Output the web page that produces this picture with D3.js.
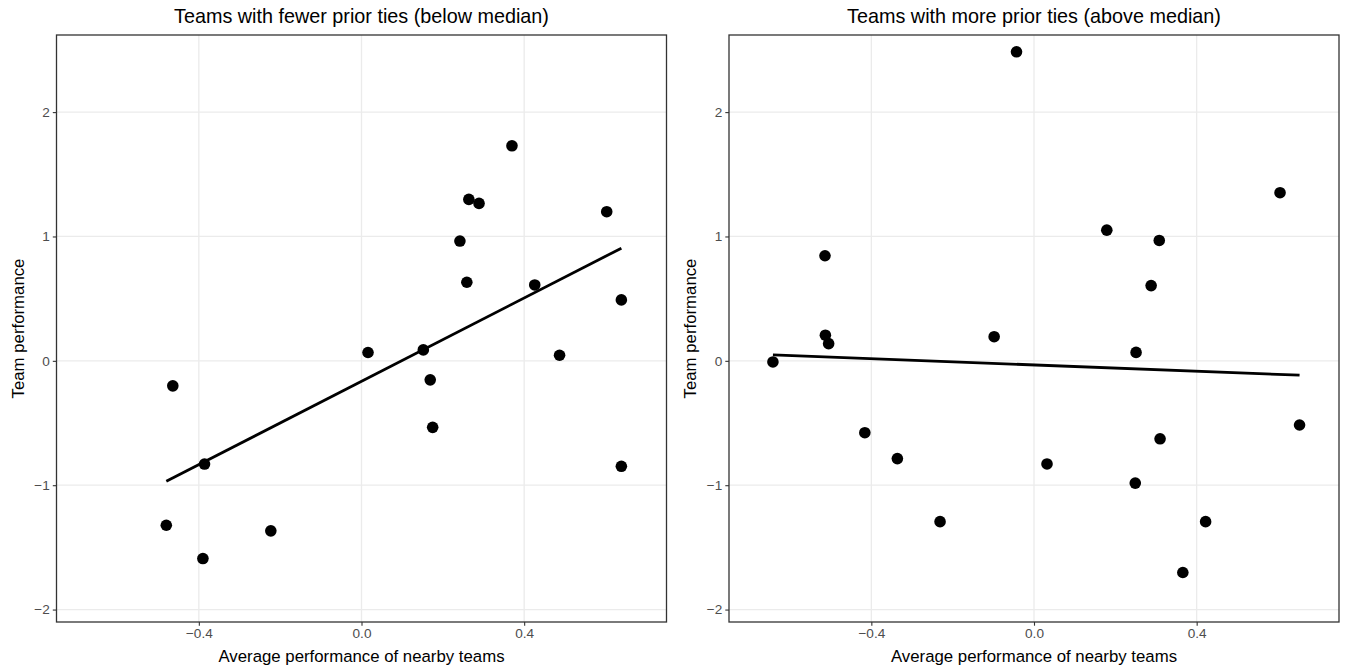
<!DOCTYPE html>
<html>
<head>
<meta charset="utf-8">
<script src="https://cdn.jsdelivr.net/npm/d3@7"></script>
<style>
  html, body { margin: 0; padding: 0; background: #fff; }
  svg { display: block; font-family: "Liberation Sans", Arial, Helvetica, sans-serif; }
</style>
</head>
<body>
<div id="chart"></div>
<script>
// Panel titles
const panelTitles = [
  'Teams with fewer prior ties (below median)',
  'Teams with more prior ties (above median)',
];

// Left panel: fewer prior ties
const fewerX = [0.370, 0.264, 0.289, 0.603, 0.242, 0.259, 0.426, 0.639, 0.016, 0.152,
  0.487, 0.169, 0.175, -0.464, -0.386, 0.639, -0.480, -0.223, -0.390];
const fewerY = [1.729, 1.298, 1.266, 1.199, 0.963, 0.632, 0.610, 0.490, 0.067, 0.088,
  0.045, -0.153, -0.535, -0.201, -0.830, -0.848, -1.322, -1.367, -1.590];

// Right panel: more prior ties
const moreX = [-0.043, 0.605, 0.179, 0.308, -0.514, 0.288, -0.513, -0.505, -0.098, 0.251,
  -0.642, 0.653, -0.416, 0.310, -0.336, 0.032, 0.249, -0.231, 0.422, 0.366];
const moreY = [2.485, 1.352, 1.051, 0.968, 0.845, 0.605, 0.206, 0.138, 0.194, 0.068,
  -0.009, -0.516, -0.578, -0.627, -0.786, -0.829, -0.983, -1.293, -1.293, -1.702];

const xTicks = [-0.4, 0, 0.4];
const yTicks = [-2, -1, 0, 1, 2];
const xDomain = [-0.75, 0.75];
const yDomain = [-2.10, 2.62];

const xLabel = 'Average performance of nearby teams';
const yLabel = 'Team performance';

const W = 1349, H = 671;
const minus = s => s.replace('-', '\u2212');

// least squares fit, same as geom_smooth(method = "lm", se = FALSE)
function fitLine(xs, ys) {
  const n = xs.length;
  const mx = d3.mean(xs), my = d3.mean(ys);
  let sxy = 0, sxx = 0;
  for (let i = 0; i < n; i++) {
    sxy += (xs[i] - mx) * (ys[i] - my);
    sxx += (xs[i] - mx) ** 2;
  }
  const b = sxy / sxx, a = my - b * mx;
  const [x0, x1] = d3.extent(xs);
  return [[x0, a + b * x0], [x1, a + b * x1]];
}

const svg = d3.select('#chart').append('svg')
  .attr('width', W)
  .attr('height', H);

const panels = [
  { title: panelTitles[0], xs: fewerX, ys: fewerY, left: 56.5, right: 666.5 },
  { title: panelTitles[1], xs: moreX, ys: moreY, left: 729, right: 1339 },
];
const plotTop = 35, plotBottom = 622;

panels.forEach(p => {
  const x = d3.scaleLinear().domain(xDomain).range([p.left, p.right]);
  const y = d3.scaleLinear().domain(yDomain).range([plotBottom, plotTop]);
  const g = svg.append('g');

  // grid
  g.append('g').selectAll('line')
    .data(xTicks).join('line')
    .attr('x1', d => x(d)).attr('x2', d => x(d))
    .attr('y1', plotTop).attr('y2', plotBottom)
    .attr('stroke', '#EBEBEB').attr('stroke-width', 1.3);
  g.append('g').selectAll('line')
    .data(yTicks).join('line')
    .attr('y1', d => y(d)).attr('y2', d => y(d))
    .attr('x1', p.left).attr('x2', p.right)
    .attr('stroke', '#EBEBEB').attr('stroke-width', 1.3);

  // axes
  const xAxis = d3.axisBottom(x).tickValues(xTicks).tickSize(3.7).tickPadding(3)
    .tickFormat(d => minus(d3.format('.1f')(d)));
  const yAxis = d3.axisLeft(y).tickValues(yTicks).tickSize(3.7).tickPadding(3)
    .tickFormat(d => minus(d3.format('d')(d)));

  const xa = g.append('g').attr('transform', `translate(0,${plotBottom})`).call(xAxis);
  const ya = g.append('g').attr('transform', `translate(${p.left},0)`).call(yAxis);
  [xa, ya].forEach(a => {
    a.select('.domain').remove();
    a.selectAll('.tick line').attr('stroke', '#333333').attr('stroke-width', 1.1);
    a.selectAll('.tick text').attr('fill', '#4D4D4D').attr('font-size', 13.6)
      .attr('font-family', '"Liberation Sans", Arial, sans-serif');
  });

  // fitted line
  const fit = fitLine(p.xs, p.ys);
  g.append('path')
    .datum(fit)
    .attr('d', d3.line().x(d => x(d[0])).y(d => y(d[1])))
    .attr('fill', 'none')
    .attr('stroke', '#000')
    .attr('stroke-width', 2.8);

  // points
  g.append('g').selectAll('circle')
    .data(p.xs.map((v, i) => [v, p.ys[i]]))
    .join('circle')
    .attr('cx', d => x(d[0]))
    .attr('cy', d => y(d[1]))
    .attr('r', 5.8)
    .attr('fill', '#000');

  // panel border
  g.append('rect')
    .attr('x', p.left).attr('y', plotTop)
    .attr('width', p.right - p.left).attr('height', plotBottom - plotTop)
    .attr('fill', 'none').attr('stroke', '#333333').attr('stroke-width', 1.3);

  // titles
  const cx = (p.left + p.right) / 2;
  g.append('text')
    .attr('x', cx).attr('y', 23)
    .attr('text-anchor', 'middle')
    .attr('font-size', 19.8)
    .attr('fill', '#000')
    .text(p.title);
  g.append('text')
    .attr('x', cx).attr('y', 662)
    .attr('text-anchor', 'middle')
    .attr('font-size', 16.8)
    .attr('fill', '#000')
    .text(xLabel);
  g.append('text')
    .attr('transform', `translate(${p.left - 33},${(plotTop + plotBottom) / 2}) rotate(-90)`)
    .attr('text-anchor', 'middle')
    .attr('font-size', 16.8)
    .attr('fill', '#000')
    .text(yLabel);
});
</script>
</body>
</html>
